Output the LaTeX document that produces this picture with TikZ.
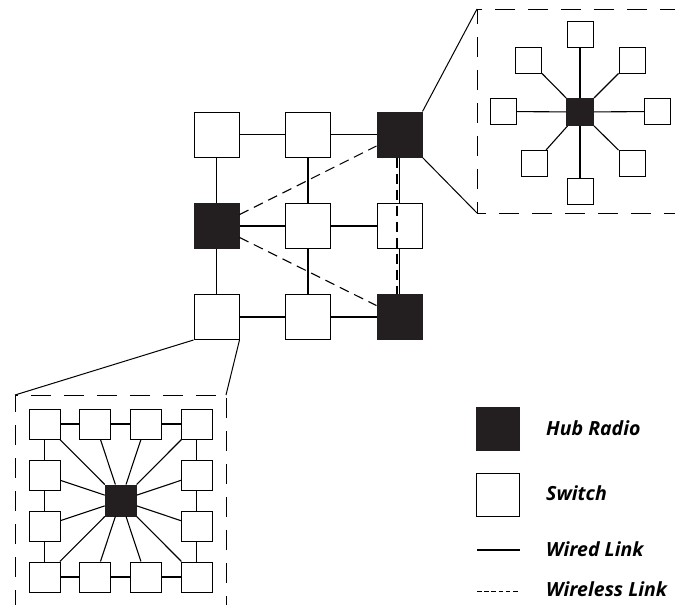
\documentclass[tikz,border=0pt]{standalone}
\usepackage{fontspec}
\setmainfont{Open Sans}
\definecolor{hubc}{HTML}{231F20}
\begin{document}
\begin{tikzpicture}[x=1pt,y=-1pt,
  sw/.style={draw=black, fill=white, line width=1pt, minimum size=#1, inner sep=0pt},
  sw/.default=45pt,
  hub/.style={draw=hubc, fill=hubc, line width=1pt, minimum size=#1, inner sep=0pt},
  hub/.default=45pt,
  ring/.style={draw=black, fill=white, line width=1pt, minimum width=31pt, minimum height=30pt, inner sep=0pt},
  wired/.style={line width=1.1pt},
  wireless/.style={line width=1.1pt, dash pattern=on 10pt off 6pt},
  zoomframe/.style={line width=1pt, dash pattern=on 20pt off 13pt},
  zoomline/.style={line width=1pt},
  legline/.style={line width=1.6pt},
  legdash/.style={line width=1.2pt, dash pattern=on 4.5pt off 2.7pt},
  legtext/.style={anchor=base west, inner sep=0pt, font=\fontsize{19.5}{21}\selectfont\bfseries\itshape}]
\useasboundingbox (0,0) rectangle (675,605);
\clip (0,0) rectangle (675,605);

% ---------- main grid ----------
\node[sw]  (n11) at (216.5,134.5) {};
\node[sw]  (n12) at (308,134.5) {};
\node[hub] (n13) at (399.5,134.5) {};
\node[hub] (n21) at (216.5,226) {};
\node[sw]  (n22) at (308,226) {};
\node[sw]  (n23) at (399.5,226) {};
\node[sw]  (n31) at (216.5,317) {};
\node[sw]  (n32) at (308,317) {};
\node[hub] (n33) at (399.5,317) {};

\draw[wired] (n11) -- (n12);
\draw[wired] (n12) -- (n13);
\draw[wired] (n21) -- (n22);
\draw[wired] (n22) -- (n23);
\draw[wired] (n31) -- (n32);
\draw[wired] (n32) -- (n33);
\draw[wired] (n11) -- (n21);
\draw[wired] (n21) -- (n31);
\draw[wired] (n12) -- (n22);
\draw[wired] (n22) -- (n32);
\draw[wired] (n13) -- (n23);
\draw[wired] (n23) -- (n33);

\draw[wireless] (n21) -- (n13);
\draw[wireless] (n21) -- (n33);
\draw[wireless] ([xshift=-2.5pt]n13.south) -- ([xshift=-2.5pt]n33.north);

% ---------- top-right inset ----------
\coordinate (tf1) at (477,9);
\coordinate (tf2) at (477,213);
\coordinate (tf3) at (680,9);
\coordinate (tf4) at (680,213);
\draw[zoomframe] (tf3) -- (tf1) -- (tf2) -- (tf4);
\draw[zoomline] (n13.north east) -- (tf1);
\draw[zoomline] (n13.south east) -- (tf2);

\node[hub=27pt] (h0) at (580,112) {};
\node[sw=26pt] (s1) at (580,34.5) {};
\node[sw=26pt] (s2) at (632,60) {};
\node[sw=26pt] (s3) at (657.5,111.5) {};
\node[sw=26pt] (s4) at (632,163.5) {};
\node[sw=26pt] (s5) at (580,191) {};
\node[sw=26pt] (s6) at (534,163.5) {};
\node[sw=26pt] (s7) at (503,111.5) {};
\node[sw=26pt] (s8) at (528.7,60) {};
\foreach \s in {s1,s2,s3,s4,s5,s6,s7,s8} \draw[wired] (h0) -- (\s);

% ---------- bottom-left inset ----------
\coordinate (bf1) at (15,395);
\coordinate (bf2) at (226,395);
\coordinate (bf3) at (15,610);
\coordinate (bf4) at (226,610);
\draw[zoomframe] (bf3) -- (bf1) -- (bf2) -- (bf4);
\draw[zoomline] (n31.south west) -- (bf1);
\draw[zoomline] (n31.south east) -- (bf2);

\node[ring] (r11) at (44.5,424) {};
\node[ring] (r12) at (95.3,424) {};
\node[ring] (r13) at (146.1,424) {};
\node[ring] (r14) at (196.9,424) {};
\node[ring] (r21) at (44.5,475) {};
\node[ring] (r24) at (196.9,475) {};
\node[ring] (r31) at (44.5,526) {};
\node[ring] (r34) at (196.9,526) {};
\node[ring] (r41) at (44.5,577) {};
\node[ring] (r42) at (95.3,577) {};
\node[ring] (r43) at (146.1,577) {};
\node[ring] (r44) at (196.9,577) {};
\node[hub=31pt] (bh) at (120.7,500.5) {};

\draw[wired] (r11) -- (r12);
\draw[wired] (r12) -- (r13);
\draw[wired] (r13) -- (r14);
\draw[wired] (r41) -- (r42);
\draw[wired] (r42) -- (r43);
\draw[wired] (r43) -- (r44);
\draw[wired] (r11) -- (r21);
\draw[wired] (r21) -- (r31);
\draw[wired] (r31) -- (r41);
\draw[wired] (r14) -- (r24);
\draw[wired] (r24) -- (r34);
\draw[wired] (r34) -- (r44);
\foreach \r in {r11,r12,r13,r14,r21,r24,r31,r34,r41,r42,r43,r44} \draw[wired] (bh) -- (\r);

% ---------- legend ----------
\node[hub=42.5pt] (lh) at (498,429.2) {};
\node[sw=42.5pt] (ls) at (498,495) {};
\coordinate (lw1) at (477,550);
\coordinate (lw2) at (519.5,550);
\draw[legline] (lw1) -- (lw2);
\coordinate (ll1) at (477,591.7);
\coordinate (ll2) at (519.5,591.7);
\draw[legdash] (ll1) -- (ll2);

\node[legtext] (t1) at (546,435.7) {Hub Radio};
\node[legtext] (t2) at (546,500) {Switch};
\node[legtext] (t3) at (546,556) {Wired Link};
\node[legtext] (t4) at (546,596.7) {Wireless Link};
\end{tikzpicture}
\end{document}
